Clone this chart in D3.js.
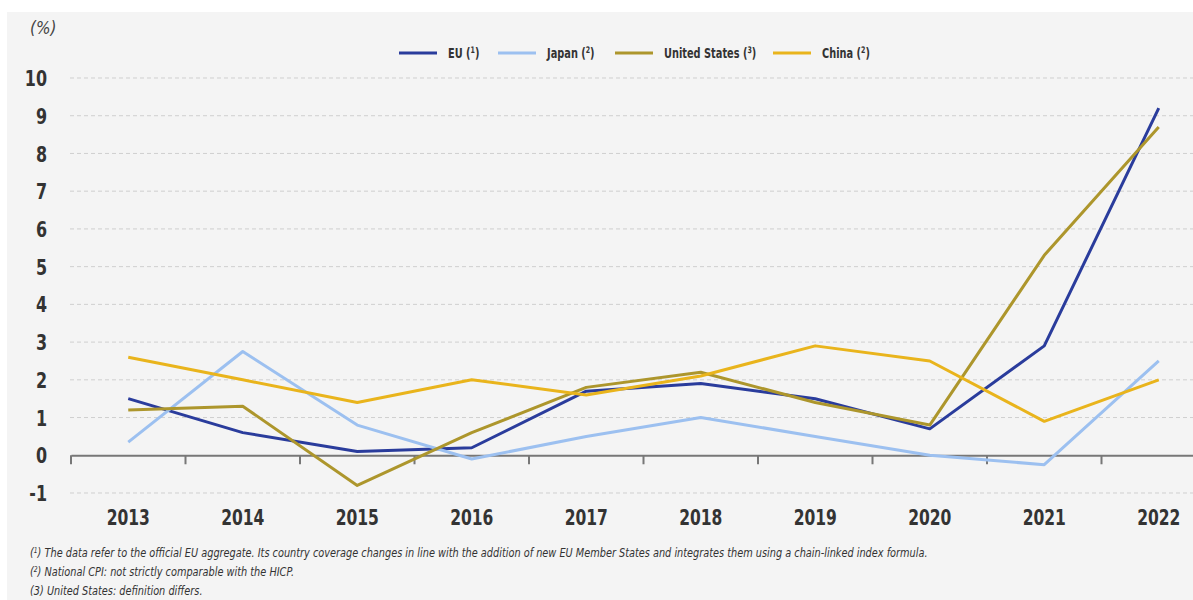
<!DOCTYPE html>
<html>
<head>
<meta charset="utf-8">
<script src="https://cdn.jsdelivr.net/npm/d3@7"></script>
<style>
  html, body { margin: 0; padding: 0; background: #ffffff; }
  svg { display: block; }
  text { font-family: "DejaVu Sans", sans-serif; }
</style>
</head>
<body>
<svg id="chart" width="1193" height="600"></svg>
<script>
// Annual inflation rates (%)
const years = ["2013", "2014", "2015", "2016", "2017", "2018", "2019", "2020", "2021", "2022"];
const euValues     = [1.5, 0.6, 0.1, 0.2, 1.7, 1.9, 1.5, 0.7, 2.9, 9.2];
const japanValues  = [0.35, 2.75, 0.8, -0.1, 0.5, 1.0, 0.5, 0.0, -0.25, 2.5];
const usValues     = [1.2, 1.3, -0.8, 0.6, 1.8, 2.2, 1.4, 0.8, 5.3, 8.7];
const chinaValues  = [2.6, 2.0, 1.4, 2.0, 1.6, 2.1, 2.9, 2.5, 0.9, 2.0];
const yTicks = [-1, 0, 1, 2, 3, 4, 5, 6, 7, 8, 9, 10];
const seriesNames = ["EU", "Japan", "United States", "China"];
const seriesNotes = ["1", "2", "3", "2"];
const footnotes = [
  ["1", " The data refer to the official EU aggregate. Its country coverage changes in line with the addition of new EU Member States and integrates them using a chain-linked index formula."],
  ["2", " National CPI: not strictly comparable with the HICP."],
  [null, "(3) United States: definition differs."]
];

const colors = ["#2a3c9c", "#9cc0f0", "#ad962c", "#e9b41c"];
const series = [euValues, japanValues, usValues, chinaValues].map((v, i) => ({
  name: seriesNames[i], note: seriesNotes[i], color: colors[i], values: v
}));

// horizontal squeeze to get a condensed look from the available fonts
const SQ_TICK = 0.76, SQ_YEAR = 0.74, SQ_LEG = 0.7, SQ_NOTE = 0.75;

const svg = d3.select("#chart");
const W = 1193, H = 600;

// panel background
svg.append("rect").attr("x", 7).attr("y", 12).attr("width", W - 7).attr("height", H - 12).attr("fill", "#f4f4f4");

const x = d3.scaleBand().domain(years).range([71, 1216]).paddingInner(0).paddingOuter(0);
const y = d3.scaleLinear().domain([-1, 10]).range([493, 78]);

// gridlines
svg.append("g").selectAll("line").data(yTicks.filter(t => t !== 0)).join("line")
  .attr("x1", 70).attr("x2", W)
  .attr("y1", d => y(d)).attr("y2", d => y(d))
  .attr("stroke", "#cfcfcf").attr("stroke-width", 1).attr("stroke-dasharray", "4,3");

// y axis labels (plain hyphen for negatives)
const yAxis = d3.axisLeft(y).tickValues(yTicks).tickSize(0).tickPadding(0).tickFormat(d => String(d));
const yg = svg.append("g").attr("transform", "translate(47,0)").call(yAxis);
yg.select(".domain").remove();
yg.selectAll("text").attr("fill", "#333").style("font-size", "21px").style("font-weight", "bold")
  .attr("x", 0).attr("dy", "0.36em").attr("transform", `scale(${SQ_TICK},1)`);

// x axis at zero
const xAxis = d3.axisBottom(x).tickSize(0).tickPadding(0);
const xg = svg.append("g").attr("transform", `translate(0,${y(0)})`).call(xAxis);
xg.select(".domain").attr("stroke", "#777").attr("stroke-width", 2);
xg.selectAll("text").remove();
// boundary ticks between categories
const bounds = years.map(d => x(d)).concat([x.range()[1]]);
xg.selectAll("line.bound").data(bounds).join("line").attr("class", "bound")
  .attr("x1", d => d).attr("x2", d => d).attr("y1", 0).attr("y2", 9)
  .attr("stroke", "#777").attr("stroke-width", 2);

// year labels
svg.append("g").selectAll("text").data(years).join("text")
  .attr("transform", d => `translate(${x(d) + x.bandwidth() / 2},525) scale(${SQ_YEAR},1)`)
  .attr("text-anchor", "middle").attr("fill", "#333")
  .style("font-size", "21px").style("font-weight", "bold")
  .text(d => d);

// lines
const line = d3.line().x((d, i) => x(years[i]) + x.bandwidth() / 2).y(d => y(d));
svg.append("g").selectAll("path").data(series).join("path")
  .attr("d", d => line(d.values))
  .attr("fill", "none").attr("stroke", d => d.color).attr("stroke-width", 3)
  .attr("stroke-linejoin", "round");

// unit label
svg.append("text").attr("transform", "translate(30,34) scale(0.9,1)").attr("fill", "#444")
  .style("font-size", "17px").style("font-style", "italic").text("(%)");

// legend
const legendX = [399, 498, 615, 773];
const lg = svg.append("g").selectAll("g").data(series).join("g")
  .attr("transform", (d, i) => `translate(${legendX[i]},53)`);
lg.append("line").attr("x1", 0).attr("x2", 38).attr("y1", 0).attr("y2", 0)
  .attr("stroke", d => d.color).attr("stroke-width", 3);
const lt = lg.append("text").attr("transform", `translate(49,5) scale(${SQ_LEG},1)`).attr("fill", "#333")
  .style("font-size", "14px").style("font-weight", "bold");
lt.append("tspan").text(d => d.name + " (");
lt.append("tspan").attr("dy", -5).style("font-size", "9px").text(d => d.note);
lt.append("tspan").attr("dy", 5).text(")");

// footnotes
const fn = svg.append("g").selectAll("text").data(footnotes).join("text")
  .attr("transform", (d, i) => `translate(30,${557 + i * 19}) scale(${SQ_NOTE},1)`).attr("fill", "#333")
  .style("font-size", "13px").style("font-style", "italic");
fn.each(function(d) {
  const t = d3.select(this);
  if (d[0] !== null) {
    t.append("tspan").text("(");
    t.append("tspan").attr("dy", -4).style("font-size", "8px").text(d[0]);
    t.append("tspan").attr("dy", 4).text(")" + d[1]);
  } else {
    t.text(d[1]);
  }
});
</script>
</body>
</html>
